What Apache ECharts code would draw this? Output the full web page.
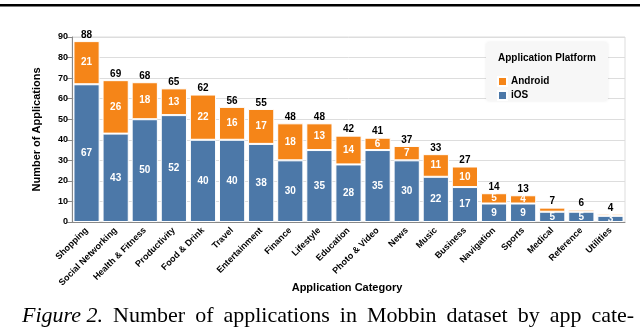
<!DOCTYPE html>
<html>
<head>
<meta charset="utf-8">
<script src="https://cdn.jsdelivr.net/npm/echarts@6/dist/echarts.min.js"></script>
<style>
  html, body { margin: 0; padding: 0; background: #fff; }
  #chart { width: 640px; height: 328px; }
</style>
</head>
<body>
<div id="chart"></div>
<script>
var categories = ['Shopping', 'Social Networking', 'Health & Fitness', 'Productivity', 'Food & Drink',
    'Travel', 'Entertainment', 'Finance', 'Lifestyle', 'Education', 'Photo & Video', 'News',
    'Music', 'Business', 'Navigation', 'Sports', 'Medical', 'Reference', 'Utilities'];
var ios = [67, 43, 50, 52, 40, 40, 38, 30, 35, 28, 35, 30, 22, 17, 9, 9, 5, 5, 3];
var android = [21, 26, 18, 13, 22, 16, 17, 18, 13, 14, 6, 7, 11, 10, 5, 4, 2, 1, 1];
var yTicks = [0, 10, 20, 30, 40, 50, 60, 70, 80, 90];

var totals = ios.map(function (v, i) {
    return v + android[i];
});

// caption words, joined with wide (justified) spaces
var captionWords = ['Number', 'of', 'applications', 'in', 'Mobbin', 'dataset', 'by', 'app', 'cate-'];
var captionText = '{i|Figure 2.}{s| }' + captionWords.join('{s| }');

var font = 'Liberation Sans';
var myChart = echarts.init(document.getElementById('chart'));

var option = {
    animation: false,
    textStyle: {fontFamily: font},
    grid: {
        left: 72, right: 15, top: 37, bottom: 106,
        show: true, borderColor: '#ddd', borderWidth: 1
    },
    legend: {
        data: ['Android', 'iOS'],
        orient: 'vertical',
        left: 497, top: 76,
        z: 60,
        itemWidth: 9, itemHeight: 9, itemGap: 3,
        icon: 'rect',
        padding: 0,
        textStyle: {fontFamily: font, fontWeight: 'bold', fontSize: 10, color: '#000', padding: [0, 0, 0, -1]}
    },
    graphic: [
        {type: 'rect', shape: {x: 0, y: 4, width: 640, height: 2.5}, style: {fill: '#000'}},
        {type: 'rect', z: 50, shape: {x: 486, y: 42, width: 122, height: 59, r: 3},
            style: {fill: '#f7f7f7', shadowBlur: 3, shadowColor: 'rgba(0,0,0,0.08)'}},
        {type: 'text', z: 51, left: 498, top: 53,
            style: {text: 'Application Platform', font: 'bold 10px "Liberation Sans"', fill: '#000'}},
        // x axis title
        {type: 'text', x: 347, y: 288,
            style: {text: 'Application Category', font: 'bold 11px "Liberation Sans"', fill: '#000',
                align: 'center', verticalAlign: 'middle'}},
        {type: 'text', left: 22, top: 305,
            style: {
                text: captionText,
                font: '22px "Liberation Serif"', fill: '#000',
                rich: {
                    i: {fontStyle: 'italic', fontFamily: 'Liberation Serif', fontSize: 22},
                    s: {width: 10, fontFamily: 'Liberation Serif', fontSize: 22}
                }
            }}
    ],
    xAxis: {
        type: 'category',
        data: categories,
        axisLine: {lineStyle: {color: '#888'}},
        axisTick: {alignWithLabel: true, length: 5, lineStyle: {color: '#888'}},
        axisLabel: {rotate: 45, fontSize: 9, fontWeight: 'bold', color: '#000', margin: 7, interval: 0}
    },
    yAxis: {
        type: 'value',
        min: 0, max: 90, interval: 10,
        name: 'Number of Applications',
        nameLocation: 'middle',
        nameGap: 30,
        nameTextStyle: {fontWeight: 'bold', fontSize: 11, color: '#000'},
        axisLine: {show: true, lineStyle: {color: '#888'}},
        axisTick: {show: true, length: 5, lineStyle: {color: '#888'}},
        axisLabel: {fontSize: 9, fontWeight: 'bold', color: '#000', margin: 4,
            formatter: function (v) { return yTicks.indexOf(v) >= 0 ? v : ''; }},
        splitLine: {lineStyle: {color: '#ddd'}}
    },
    series: [
        {
            name: 'iOS',
            type: 'bar',
            stack: 'all',
            data: ios,
            barCategoryGap: '10%',
            itemStyle: {color: '#4c78a8', borderColor: '#fff', borderWidth: 1},
            label: {show: true, position: 'inside', color: '#fff', fontWeight: 'bold', fontSize: 10}
        },
        {
            name: 'Android',
            type: 'bar',
            stack: 'all',
            data: android,
            itemStyle: {color: '#f58518', borderColor: '#fff', borderWidth: 1},
            label: {show: true, position: 'inside', color: '#fff', fontWeight: 'bold', fontSize: 10,
                formatter: function (p) { return p.value >= 3 ? p.value : ''; }}
        },
        {
            name: 'total',
            type: 'bar',
            stack: 'all',
            data: totals.map(function () { return 0; }),
            itemStyle: {color: 'transparent'},
            label: {show: true, position: 'top', color: '#000', fontWeight: 'bold', fontSize: 10, distance: 1,
                formatter: function (p) { return totals[p.dataIndex]; }}
        }
    ]
};

myChart.setOption(option);
</script>
</body>
</html>
